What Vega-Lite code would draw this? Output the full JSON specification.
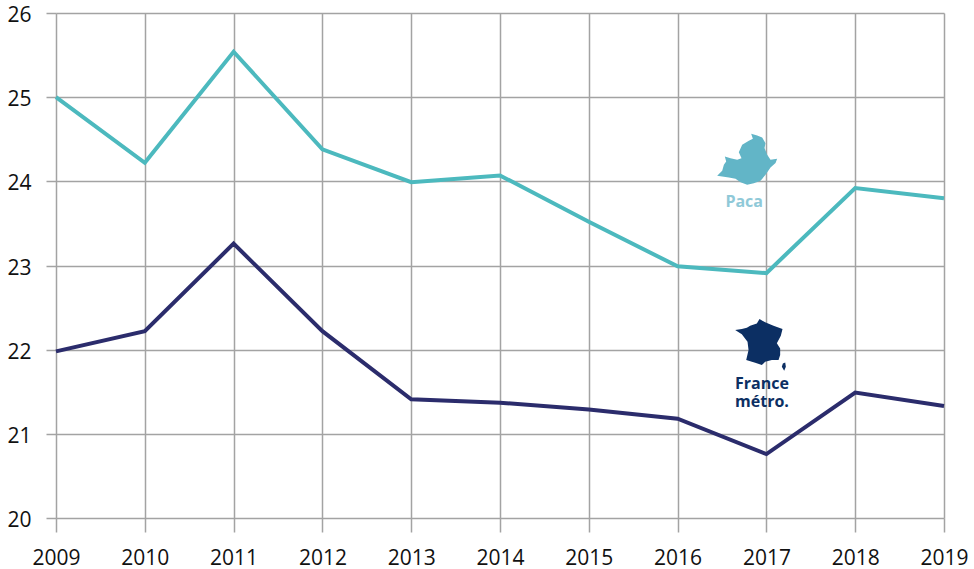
{
"$schema":"https://vega.github.io/schema/vega-lite/v6.json",
"width":888,"height":505,
"autosize":{"type":"none"},
"padding":{"left":56,"top":13,"right":30,"bottom":51},
"background":"white",
"config":{"view":{"stroke":null},"font":"Open Sans"},
"datasets":{
"series":[
{"annee":2009,"taux":25.0,"zone":"Paca"},{"annee":2010,"taux":24.22,"zone":"Paca"},{"annee":2011,"taux":25.54,"zone":"Paca"},{"annee":2012,"taux":24.38,"zone":"Paca"},{"annee":2013,"taux":23.99,"zone":"Paca"},{"annee":2014,"taux":24.07,"zone":"Paca"},{"annee":2015,"taux":23.52,"zone":"Paca"},{"annee":2016,"taux":22.99,"zone":"Paca"},{"annee":2017,"taux":22.91,"zone":"Paca"},{"annee":2018,"taux":23.92,"zone":"Paca"},{"annee":2019,"taux":23.8,"zone":"Paca"},
{"annee":2009,"taux":21.98,"zone":"France"},{"annee":2010,"taux":22.22,"zone":"France"},{"annee":2011,"taux":23.26,"zone":"France"},{"annee":2012,"taux":22.22,"zone":"France"},{"annee":2013,"taux":21.41,"zone":"France"},{"annee":2014,"taux":21.37,"zone":"France"},{"annee":2015,"taux":21.29,"zone":"France"},{"annee":2016,"taux":21.18,"zone":"France"},{"annee":2017,"taux":20.76,"zone":"France"},{"annee":2018,"taux":21.49,"zone":"France"},{"annee":2019,"taux":21.33,"zone":"France"}
]},
"encoding":{
"x":{"field":"annee","type":"quantitative","scale":{"domain":[2009,2019],"nice":false,"zero":false},
"axis":{"title":null,"values":[2009,2010,2011,2012,2013,2014,2015,2016,2017,2018,2019],"format":"d","grid":true,"gridColor":"#a3a3a3","gridWidth":1.5,"domain":false,"tickColor":"#a3a3a3","tickWidth":1.5,"tickSize":14,"labelFontSize":21,"labelColor":"#111111","labelPadding":15,"labelFlush":false,"labelOverlap":false,"labelFont":"Open Sans"}},
"y":{"field":"taux","type":"quantitative","scale":{"domain":[20,26],"nice":false,"zero":false},
"axis":{"title":null,"values":[20,21,22,23,24,25,26],"format":"d","grid":true,"gridColor":"#a3a3a3","gridWidth":1.5,"domain":false,"tickColor":"#a3a3a3","tickWidth":1.5,"tickSize":10,"labelFontSize":21,"labelColor":"#111111","labelPadding":15,"labelOffset":2.5,"labelFont":"Open Sans"}}
},
"layer":[
{"data":{"name":"series"},"mark":{"type":"line","strokeWidth":4,"interpolate":"linear"},
"encoding":{"color":{"field":"zone","type":"nominal","scale":{"domain":["Paca","France"],"range":["#4cb9be","#2b2c6c"]},"legend":null}}},
{"data":{"values":[{"annee":2016.78,"taux":24.26,"zone":"Paca"}]},
"mark":{"type":"point","filled":true,"opacity":1,"fill":"#62b5c7","stroke":null,"size":14400,"shape":"M.072 -.428L.172 -.4L.255 -.366L.311 -.272L.294 -.189L.339 -.078L.394 .006L.505 -.011L.478 .061L.394 .134L.311 .256L.228 .356L.116 .395L.005 .422L-.106 .378L-.189 .322L-.3 .3L-.495 .272L-.411 .189L-.383 .089L-.345 .034L-.367 -.05L-.272 -.022L-.161 .006L-.089 -.022L-.134 -.122L-.078 -.244L.033 -.311L.1 -.344Z"}},
{"data":{"values":[{"annee":2016.93,"taux":22.055,"zone":"France"}]},
"mark":{"type":"point","filled":true,"opacity":1,"fill":"#0c2f63","stroke":null,"size":14400,"shape":"M-.011 -.433L.083 -.378L.222 -.322L.372 -.267L.344 -.156L.278 -.028L.333 .056L.333 .167L.306 .25L.194 .25L.083 .278L.028 .333L-.083 .294L-.233 .25L-.194 .083L-.211 -.056L-.306 -.178L-.417 -.25L-.306 -.267L-.222 -.289L-.167 -.322L-.056 -.361ZM.378 .306L.417 .289L.428 .361L.4 .428L.361 .361Z"}},
{"data":{"values":[{"annee":2016.75,"taux":23.76,"etiquette":"Paca"}]},
"mark":{"type":"text","font":"Open Sans","fontWeight":"bold","fontSize":16,"color":"#8fc9d8","align":"center","baseline":"middle"},
"encoding":{"text":{"field":"etiquette"}}},
{"data":{"values":[{"annee":2016.95,"taux":21.595,"etiquette":"France\nmétro."}]},
"mark":{"type":"text","font":"Open Sans","fontWeight":"bold","fontSize":16,"color":"#0c2f63","align":"center","baseline":"middle","lineBreak":"\n","lineHeight":18},
"encoding":{"text":{"field":"etiquette"}}}
]
}
